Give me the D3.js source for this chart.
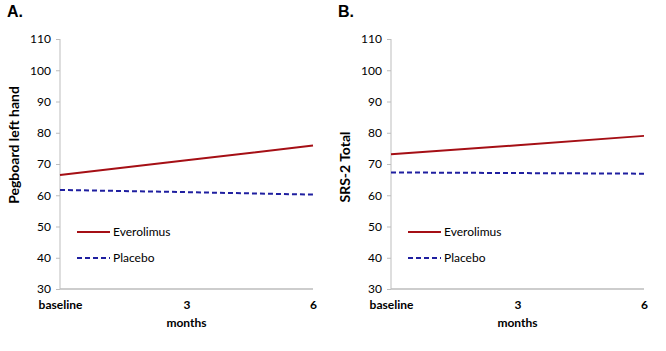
<!DOCTYPE html>
<html>
<head>
<meta charset="utf-8">
<script src="https://cdn.jsdelivr.net/npm/d3@7"></script>
<style>
  body { margin: 0; background: #fff; }
  text { font-family: Lato, "Open Sans", sans-serif; fill: #000; }
  .tick text { font-size: 12px; }
  .lab { font-size: 12px; font-weight: bold; }
  .panel { font-family: "Liberation Sans", Arial, sans-serif; font-size: 16px; font-weight: bold; }
</style>
</head>
<body>
<script>
const months = [0, 3, 6];
const monthLabels = ["baseline", "3", "6"];
const yTicks = [30, 40, 50, 60, 70, 80, 90, 100, 110];
const seriesNames = ["Everolimus", "Placebo"];

const pegEverolimus = [66.5, 71.2, 75.9];
const pegPlacebo = [61.7, 61.0, 60.2];
const srsEverolimus = [73.1, 76.0, 79.0];
const srsPlacebo = [67.3, 67.1, 66.9];

const w = 666, h = 351;
const svg = d3.select("body").append("svg").attr("width", w).attr("height", h);

const panels = [
  { letter: "A.", yLabel: "Pegboard left hand", ox: 0, labelY: 145, data: [pegEverolimus, pegPlacebo] },
  { letter: "B.", yLabel: "SRS-2 Total", ox: 331, labelY: 167, data: [srsEverolimus, srsPlacebo] }
];

const styles = [
  { color: "#a50f15", dash: null },
  { color: "#1f1fa0", dash: "5,3" }
];

panels.forEach((p) => {
  const m = { l: 60, t: 39 };
  const gw = 253, gh = 250;

  const x = d3.scaleLinear().domain([0, 6]).range([0, gw]);
  const y = d3.scaleLinear().domain([30, 110]).range([gh, 0]);

  svg.append("text")
    .attr("class", "panel")
    .attr("x", p.ox + 7)
    .attr("y", 17)
    .text(p.letter);

  const g = svg.append("g").attr("transform", `translate(${p.ox + m.l}, ${m.t})`);

  // y-axis
  const yAxis = d3.axisLeft(y).tickValues(yTicks).tickSize(4).tickPadding(5);
  const ya = g.append("g").call(yAxis);
  ya.select(".domain").attr("stroke", "#bdbdbd").attr("d", `M0,0V${gh}`);
  ya.selectAll(".tick line").attr("stroke", "#bdbdbd");
  ya.selectAll(".tick text").attr("fill", "#222").attr("font-size", 12.5);

  // x-axis
  const xAxis = d3.axisBottom(x).tickValues(months).tickSize(0).tickPadding(11)
    .tickFormat((d, i) => monthLabels[i]);
  const xa = g.append("g").attr("transform", `translate(0, ${gh})`).call(xAxis);
  xa.select(".domain").attr("stroke", "#bdbdbd").attr("stroke-width", 1.5).attr("d", `M0,0H${gw}`);
  xa.selectAll(".tick text").attr("class", "lab").attr("font-size", 11).attr("fill", "#222");

  svg.append("text")
    .attr("class", "lab")
    .attr("x", p.ox + m.l + gw / 2)
    .attr("y", 327)
    .attr("text-anchor", "middle")
    .text("months");

  svg.append("text")
    .attr("class", "lab")
    .attr("font-size", 14)
    .attr("style", "font-size:14px")
    .attr("transform", "rotate(-90)")
    .attr("x", -p.labelY)
    .attr("y", p.ox + 19)
    .attr("text-anchor", "middle")
    .text(p.yLabel);

  // lines
  const line = d3.line().x((d, i) => x(months[i])).y((d) => y(d));
  p.data.forEach((vals, i) => {
    g.append("path")
      .datum(vals)
      .attr("fill", "none")
      .attr("stroke", styles[i].color)
      .attr("stroke-width", 2)
      .attr("stroke-dasharray", styles[i].dash)
      .attr("d", line);
  });

  // legend
  const lg = svg.append("g").attr("transform", `translate(${p.ox + 77}, 232)`);
  seriesNames.forEach((name, i) => {
    lg.append("line")
      .attr("x1", 0).attr("x2", 33)
      .attr("y1", i * 26).attr("y2", i * 26)
      .attr("stroke", styles[i].color)
      .attr("stroke-width", 2)
      .attr("stroke-dasharray", styles[i].dash);
    lg.append("text")
      .attr("x", 36)
      .attr("y", i * 26 + 4)
      .attr("font-size", 12)
      .attr("fill", "#222")
      .text(name);
  });
});
</script>
</body>
</html>
